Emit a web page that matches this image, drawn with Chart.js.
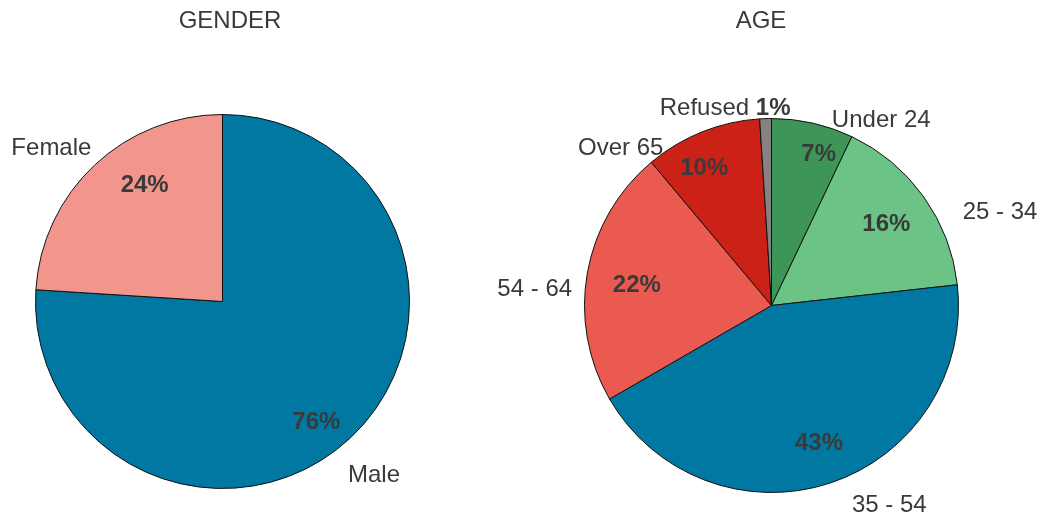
<!DOCTYPE html>
<html>
<head>
<meta charset="utf-8">
<title>Gender and Age</title>
<script src="https://cdn.jsdelivr.net/npm/chart.js@4.4.1/dist/chart.umd.min.js"></script>
<style>
  html, body { margin: 0; padding: 0; background: #ffffff; }
  #wrap { position: relative; width: 1048px; height: 518px; overflow: hidden; }
  #wrap canvas { position: absolute; top: 0; }
  #genderCanvas { left: 0; }
  #ageCanvas { left: 424px; }
</style>
</head>
<body>
<div id="wrap">
  <canvas id="genderCanvas" width="524" height="518"></canvas>
  <canvas id="ageCanvas" width="624" height="518"></canvas>
</div>
<script>
// ---- data ----
const genderTitle = 'GENDER';
const genderLabels = ['Male', 'Female'];
const genderValues = [76, 24];

const ageTitle = 'AGE';
const ageLabels = ['Under 24', '25 - 34', '35 - 54', '54 - 64', 'Over 65', 'Refused'];
const ageValues = [7, 16, 43, 22, 10, 1];

// ---- styling ----
const genderColors = ['#0078A1', '#F2958D'];
const ageColors = ['#3D9657', '#6BC486', '#0078A1', '#EB5A50', '#CC2116', '#878181'];

const TEXT_COLOR = '#3a3a3a';
const FONT_FAMILY = '"Liberation Sans", Arial, Helvetica, sans-serif';
const LABEL_FONT = '24px ' + FONT_FAMILY;
const PCT_FONT = 'bold 24px ' + FONT_FAMILY;
const TEXT_DROP = 2; // optical vertical correction for 'middle' baseline

// Per-slice fine placement of the category labels (outside) and the
// percentage labels (inside), in pixels, added to the geometric position.
const genderLayout = {
  titleX: 230, titleY: 20,
  padding: { left: 35, right: 114, top: 114, bottom: 29 },
  outerNudge: [[-2.5, 20], [-7.5, -3]],
  innerNudge: [[-6, 13], [22, -12]]
};
const ageLayout = {
  titleX: 337, titleY: 20,
  padding: { left: 160, right: 89, top: 118, bottom: 25 },
  outerNudge: [[55, 16.5], [36, 26], [44, -0.5], [-4, 18], [-61, 35], [-38, 10]],
  innerNudge: [[15, -11], [-4, 1], [2, -3], [9, 3], [-13, -4], [0, 0]]
};

// Draws the chart title, the bold percentages inside each slice and the
// category names outside the pie. Very thin slices get their percentage
// appended to the outside label instead.
const pieLabelsPlugin = {
  id: 'pieLabels',
  afterDatasetsDraw(chart, args, opts) {
    const ctx = chart.ctx;
    const meta = chart.getDatasetMeta(0);
    const values = chart.data.datasets[0].data;
    const labels = chart.data.labels;
    const total = values.reduce((a, b) => a + b, 0);
    const layout = opts.layout;

    ctx.save();
    ctx.fillStyle = TEXT_COLOR;
    ctx.textBaseline = 'middle';
    ctx.textAlign = 'center';

    // title
    ctx.font = LABEL_FONT;
    ctx.fillText(opts.title, layout.titleX, layout.titleY + 1);

    meta.data.forEach((arc, i) => {
      const p = arc.getProps(['x', 'y', 'startAngle', 'endAngle', 'outerRadius'], true);
      const mid = (p.startAngle + p.endAngle) / 2;
      const dx = Math.cos(mid), dy = Math.sin(mid);
      const r = p.outerRadius;
      const pctText = values[i] + '%';
      const small = values[i] / total < 0.03;

      // percentage inside the slice
      if (!small) {
        const n = layout.innerNudge[i];
        ctx.font = PCT_FONT;
        ctx.textAlign = 'center';
        ctx.fillText(pctText, p.x + dx * r * 0.78 + n[0], p.y + dy * r * 0.78 + n[1] + TEXT_DROP);
      }

      // category label outside the slice
      ctx.font = LABEL_FONT;
      const nameText = small ? labels[i] + ' ' : labels[i];
      const nameW = ctx.measureText(nameText).width;
      ctx.font = PCT_FONT;
      const extraW = small ? ctx.measureText(pctText).width : 0;
      const w = nameW + extraW;
      const h = 20;
      const n = layout.outerNudge[i];
      const cx = p.x + dx * (r + 12) + dx * w / 2 + n[0];
      const cy = p.y + dy * (r + 12) + dy * h / 2 + n[1] + TEXT_DROP;
      ctx.textAlign = 'left';
      ctx.font = LABEL_FONT;
      ctx.fillText(nameText, cx - w / 2, cy);
      if (small) {
        ctx.font = PCT_FONT;
        ctx.fillText(pctText, cx - w / 2 + nameW, cy);
      }
    });
    ctx.restore();
  }
};

function makePie(canvasId, title, labels, values, colors, layout) {
  return new Chart(document.getElementById(canvasId), {
    type: 'pie',
    data: {
      labels: labels,
      datasets: [{
        data: values,
        backgroundColor: colors,
        borderColor: '#111111',
        borderWidth: 1
      }]
    },
    options: {
      responsive: false,
      animation: false,
      events: [],
      rotation: 0,
      layout: { padding: layout.padding },
      plugins: {
        legend: { display: false },
        title: { display: false },
        tooltip: { enabled: false },
        pieLabels: { title: title, layout: layout }
      }
    },
    plugins: [pieLabelsPlugin]
  });
}

makePie('genderCanvas', genderTitle, genderLabels, genderValues, genderColors, genderLayout);
makePie('ageCanvas', ageTitle, ageLabels, ageValues, ageColors, ageLayout);
</script>
</body>
</html>
